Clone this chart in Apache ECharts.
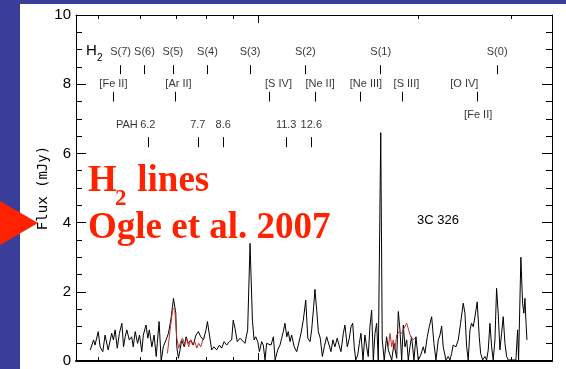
<!DOCTYPE html>
<html><head><meta charset="utf-8">
<script src="https://cdn.jsdelivr.net/npm/echarts@6/dist/echarts.min.js"></script>
<style>html,body{margin:0;padding:0;background:#fff;}#c{width:566px;height:369px;}</style>
</head><body><div id="c"></div>
<script>
// ---- data (rest wavelength in micron, flux in mJy) ----
const waveBlack = [4.83,4.90,4.93,5.00,5.04,5.10,5.15,5.22,5.30,5.34,5.38,5.43,5.48,5.54,5.58,5.62,5.66,5.72,5.78,5.82,5.87,5.93,5.98,6.04,6.08,6.15,6.20,6.24,6.31,6.37,6.43,6.46,6.51,6.57,6.63,6.71,6.78,6.85,6.93,7.00,7.03,7.08,7.13,7.18,7.26,7.32,7.39,7.47,7.55,7.64,7.72,7.80,7.89,7.98,8.03,8.10,8.18,8.26,8.36,8.46,8.54,8.63,8.73,8.83,8.92,8.98,9.05,9.14,9.25,
9.32,9.45,9.56,9.66,9.76,9.83,9.90,9.99,10.06,10.16,10.23,10.31,10.38,10.46,10.58,10.69,10.77,10.89,11.00,11.08,11.16,11.24,11.33,11.40,11.49,11.57,11.70,11.83,11.95,12.05,12.17,12.30,12.41,12.53,12.62,12.73,12.80,12.90,12.99,13.10,13.22,13.33,13.47,13.61,13.72,13.84,13.96,14.10,14.21,14.33,14.48,14.58,14.73,14.86,14.97,15.08,15.18,15.28,15.41,15.52,15.63,15.77,15.90,16.02,16.13,16.25,16.37,16.49,16.61,16.73,16.85,17.03,17.14,17.29,17.47,17.60,
17.86,18.04,18.25,18.38,18.51,18.65,18.78,18.92,19.06,19.19,19.33,19.47,19.67,19.84,20.04,20.25,20.48,20.63,20.84,21.02,21.24,21.45,21.64,21.86,22.02,22.18,22.33,22.60,22.82,22.99,23.16,23.32,23.60,23.84,24.08,24.36,24.54,24.72,24.89,25.08,25.26,25.44,25.63,25.88,26.11,26.27,26.50,26.76,26.96,27.15,27.35,27.55,27.74,27.95,28.15,28.35,28.56,28.77,28.97,29.19,29.40,29.61,29.92,30.26,30.61,30.84,30.97,31.15,31.28,31.51,31.69,31.83,31.97,32.11];
const fluxBlack = [0.32,0.61,0.46,0.85,0.41,0.27,0.75,0.32,0.80,0.61,0.90,0.37,0.80,1.09,0.41,0.70,0.90,0.61,0.70,0.41,0.85,0.51,0.75,0.27,0.75,1.04,0.66,0.90,0.41,0.75,0.13,0.51,1.14,0.00,0.41,0.61,0.80,1.18,1.81,1.38,0.41,0.08,0.32,0.61,0.41,0.70,0.51,0.61,0.46,0.75,0.85,0.70,0.61,0.90,1.14,0.75,0.32,0.41,0.32,0.46,0.37,0.56,0.46,0.56,0.61,1.18,0.94,0.56,0.66,
0.61,0.51,0.90,3.40,1.18,0.61,0.70,0.56,0.27,0.56,0.46,0.03,0.51,0.56,0.46,0.70,0.03,0.32,0.46,0.66,0.85,1.09,0.70,0.85,0.56,0.75,0.41,0.27,0.56,0.80,1.18,1.76,0.66,0.56,0.90,1.57,2.07,1.47,0.85,0.66,0.13,0.41,0.70,0.46,0.27,0.61,0.41,0.66,0.46,0.27,0.80,1.04,0.41,0.66,0.99,1.09,0.41,0.03,0.17,0.51,0.80,0.03,0.75,0.41,0.13,0.99,1.47,0.03,0.80,1.09,0.03,6.60,0.61,0.03,0.70,0.32,
0.03,0.51,0.08,1.43,0.90,0.03,1.04,0.41,0.61,0.03,0.41,0.70,0.03,0.70,0.03,0.17,0.41,0.22,0.70,0.99,1.28,0.51,0.03,0.61,0.75,1.01,0.41,0.03,0.13,0.03,0.22,0.46,0.41,0.61,1.09,1.67,1.38,0.41,0.03,0.90,1.09,0.99,1.28,1.71,0.70,0.22,0.03,0.13,0.03,0.32,1.09,0.41,0.03,0.61,2.10,1.38,0.32,0.80,1.28,0.51,0.13,0.03,0.03,0.03,0.03,0.90,0.03,1.76,3.00,1.67,1.38,1.81,1.18,0.61];
const waveRed1 = [6.75,6.83,6.91,6.97,7.03,7.09,7.15,7.21,7.28,7.34,7.40,7.47,7.53,7.60,7.67,7.73,7.80,7.87,7.94];
const fluxRed1 = [0.22,0.90,1.53,1.47,0.66,0.37,0.56,0.66,0.46,0.66,0.41,0.61,0.46,0.56,0.37,0.51,0.41,0.61,0.70];
const waveRed2 = [17.60,17.73,17.86,17.98,18.11,18.25,18.45,18.65,18.83,19.06,19.22,19.39,19.56,19.76];
const fluxRed2 = [0.41,0.80,0.41,0.61,0.32,0.75,0.85,0.80,0.94,1.09,0.90,0.70,0.61,0.66];

const h2Names = ['S(7)','S(6)','S(5)','S(4)','S(3)','S(2)','S(1)','S(0)'];
const h2Waves = [5.51,6.11,6.91,8.03,9.66,12.28,17.03,28.22];
const ionNames = ['[Fe II]','[Ar II]','[S IV]','[Ne II]','[Ne III]','[S III]','[O IV]'];
const ionWaves = [5.34,6.99,10.51,12.81,15.56,18.71,25.89];
const ion2Names = ['[Fe II]'];
const ion2Waves = [25.99];
const pahNames = ['6.2','7.7','8.6','11.3','12.6'];
const pahWaves = [6.2,7.7,8.6,11.3,12.6];
const pahPrefix = 'PAH';
const xTickWaves = [5,6,7,8,9,20,30];
const xMajorWaves = [10];
const xMinWave = 4.54, xMaxWave = 35.8;
const yMin = 0, yMax = 10, yStep = 2;
const yName = 'Flux (mJy)';
const sourceName = '3C 326';
const titleLine1 = ['H','2',' lines'];
const titleLine2 = 'Ogle et al. 2007';

// ---- layout / style ----
const lg = v => Math.log10(v);
const ROW = {h2Label:8.93, h2Tick:[8.55,8.29], ionLabel:8.0, ionTick:[7.78,7.5], ion2Label:7.1, pahLabel:6.82, pahTick:[6.47,6.18]};
const ionOffsets = [0,3,9,5,6,4,-13];
const SANS = '"Liberation Sans",Arial,sans-serif';
const labelFont = {fontFamily:SANS, fontSize:11, color:'#000'};
const RED = '#ff2200';
const BLUE = '#3b3e98';

const labelData = [];
h2Names.forEach((n,i)=>labelData.push({value:[lg(h2Waves[i]),ROW.h2Label],label:{formatter:n}}));
ionNames.forEach((n,i)=>labelData.push({value:[lg(ionWaves[i]),ROW.ionLabel],label:{formatter:n,offset:[ionOffsets[i],0]}}));
ion2Names.forEach((n,i)=>labelData.push({value:[lg(ion2Waves[i]),ROW.ion2Label],label:{formatter:n}}));
pahNames.forEach((n,i)=>labelData.push({value:[lg(pahWaves[i]),ROW.pahLabel],label:{formatter:n}}));
labelData.push({value:[lg(pahWaves[0]),ROW.pahLabel],label:{formatter:pahPrefix,offset:[-21,0]}});

const segs = [];
h2Waves.forEach(w=>segs.push([{coord:[lg(w),ROW.h2Tick[0]]},{coord:[lg(w),ROW.h2Tick[1]]}]));
ionWaves.forEach(w=>segs.push([{coord:[lg(w),ROW.ionTick[0]]},{coord:[lg(w),ROW.ionTick[1]]}]));
pahWaves.forEach(w=>segs.push([{coord:[lg(w),ROW.pahTick[0]]},{coord:[lg(w),ROW.pahTick[1]]}]));

const xBase = {type:'value', min:lg(xMinWave), max:lg(xMaxWave), splitLine:{show:false}, axisLabel:{show:false}};
const tickStyle = {color:'#000', width:1};
const yBase = {type:'value', min:yMin, max:yMax, interval:yStep, splitLine:{show:false},
  axisLine:{show:true, lineStyle:{color:'#000', width:1}},
  axisTick:{show:true, inside:true, length:10, lineStyle:tickStyle},
  minorTick:{show:true, splitNumber:4, length:6, lineStyle:tickStyle}};

const chart = echarts.init(document.getElementById('c'), null, {renderer:'canvas'});
chart.setOption({
  animation:false,
  backgroundColor:'#fff',
  grid:{left:76, right:14, top:15, bottom:8, containLabel:false},
  xAxis:[
    Object.assign({}, xBase, {position:'bottom', axisLine:{lineStyle:{color:'#000',width:2}}, axisTick:{inside:true,length:4,customValues:xTickWaves.map(lg),lineStyle:tickStyle}}),
    Object.assign({}, xBase, {position:'bottom', axisLine:{show:false}, axisTick:{inside:true,length:8,customValues:xMajorWaves.map(lg),lineStyle:tickStyle}}),
    Object.assign({}, xBase, {position:'top', axisLine:{lineStyle:{color:'#000',width:1}}, axisTick:{inside:true,length:4,customValues:xTickWaves.map(lg),lineStyle:tickStyle}}),
    Object.assign({}, xBase, {position:'top', axisLine:{show:false}, axisTick:{inside:true,length:8,customValues:xMajorWaves.map(lg),lineStyle:tickStyle}})
  ],
  yAxis:[
    Object.assign({}, yBase, {position:'left', name:yName, nameLocation:'middle', nameGap:26, nameMoveOverlap:false,
      nameTextStyle:{fontFamily:'"DejaVu Sans Mono",monospace', fontSize:14, color:'#000'},
      axisLabel:{color:'#000', fontFamily:SANS, fontSize:15, margin:5}}),
    Object.assign({}, yBase, {position:'right', axisLabel:{show:false}})
  ],
  series:[
    {type:'line', xAxisIndex:0, yAxisIndex:0, symbol:'none', data:waveBlack.map((w,i)=>[lg(w),fluxBlack[i]]),
      lineStyle:{color:'#000', width:1}, z:3},
    {type:'line', xAxisIndex:0, yAxisIndex:0, symbol:'none', data:waveRed1.map((w,i)=>[lg(w),fluxRed1[i]]),
      lineStyle:{color:'#c03030', width:1}, z:4},
    {type:'line', xAxisIndex:0, yAxisIndex:0, symbol:'none', data:waveRed2.map((w,i)=>[lg(w),fluxRed2[i]]),
      lineStyle:{color:'#c03030', width:1}, z:4},
    {type:'scatter', xAxisIndex:0, yAxisIndex:0, symbolSize:0, data:labelData, silent:true,
      label:Object.assign({show:true, position:'inside'}, labelFont),
      markLine:{silent:true, symbol:['none','none'], label:{show:false}, lineStyle:{color:'#000', width:1, type:'solid'}, data:segs}}
  ],
  graphic:[
    {type:'rect', shape:{x:0,y:0,width:566,height:4}, style:{fill:BLUE}, z:10},
    {type:'rect', shape:{x:0,y:0,width:20,height:369}, style:{fill:BLUE}, z:10},
    {type:'polygon', shape:{points:[[0,201],[38,223],[0,245]]}, style:{fill:RED}, z:11},
    {type:'text', x:86, y:51, style:{text:'H', fontFamily:SANS, fontSize:15, fill:'#000', verticalAlign:'middle'}, z:11},
    {type:'text', x:97, y:58, style:{text:'2', fontFamily:SANS, fontSize:10, fill:'#000', verticalAlign:'middle'}, z:11},
    {type:'text', x:438, y:220, style:{text:sourceName, fontFamily:SANS, fontSize:13, fill:'#000', align:'center', verticalAlign:'middle'}, z:11},
    {type:'text', x:88, y:181, style:{text:titleLine1[0], fontFamily:'"Liberation Serif",serif', fontWeight:'bold', fontSize:37, fill:RED, verticalAlign:'middle'}, z:11},
    {type:'text', x:115, y:199, style:{text:titleLine1[1], fontFamily:'"Liberation Serif",serif', fontWeight:'bold', fontSize:23, fill:RED, verticalAlign:'middle'}, z:11},
    {type:'text', x:128, y:181, style:{text:titleLine1[2], fontFamily:'"Liberation Serif",serif', fontWeight:'bold', fontSize:37, fill:RED, verticalAlign:'middle'}, z:11},
    {type:'text', x:88, y:228, style:{text:titleLine2, fontFamily:'"Liberation Serif",serif', fontWeight:'bold', fontSize:37, fill:RED, verticalAlign:'middle'}, z:11}
  ]
});
</script></body></html>
